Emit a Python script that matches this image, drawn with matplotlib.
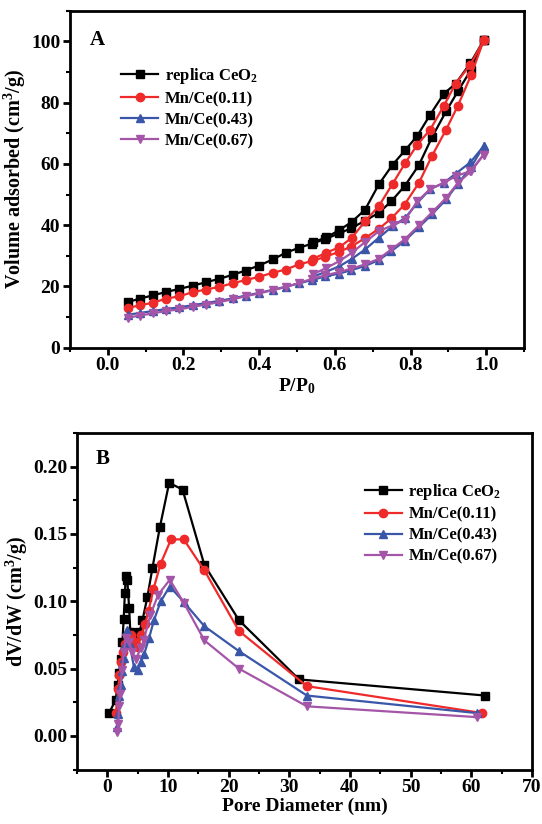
import numpy as np
import matplotlib
matplotlib.use('Agg')
import matplotlib.pyplot as plt
from matplotlib.ticker import MultipleLocator

# ---- panel A: N2 isotherms (adsorption + desorption branches) ----
p_ads = [0.053, 0.084, 0.119, 0.154, 0.189, 0.226, 0.260, 0.295, 0.330, 0.364,
         0.399, 0.436, 0.470, 0.505, 0.540, 0.575, 0.611, 0.643, 0.680, 0.716,
         0.749, 0.784, 0.822, 0.857, 0.894, 0.925, 0.960, 0.993]
p_des = [0.993, 0.958, 0.919, 0.888, 0.852, 0.818, 0.786, 0.753, 0.716, 0.680,
         0.645, 0.612, 0.577, 0.542]

ceo2_ads = [14.9, 16.0, 17.1, 18.2, 19.2, 20.3, 21.4, 22.5, 23.8, 25.2,
            26.8, 28.8, 31.0, 32.6, 34.0, 35.5, 37.3, 39.0, 41.5, 44.0,
            47.8, 52.7, 59.6, 68.8, 77.2, 83.7, 90.8, 100.3]
ceo2_des = [100.3, 92.9, 86.2, 82.9, 76.1, 69.2, 64.5, 59.8, 53.3, 45.1,
            41.1, 38.4, 36.0, 34.4]

mn011_ads = [13.0, 13.8, 14.7, 16.0, 16.8, 18.2, 19.0, 19.9, 21.0, 22.1,
             23.1, 24.5, 25.5, 27.2, 28.3, 29.7, 31.3, 33.0, 35.8, 38.8,
             42.2, 46.7, 53.8, 62.7, 71.2, 79.0, 89.0, 100.3]
mn011_des = [100.3, 92.4, 86.2, 79.0, 71.2, 66.3, 60.3, 53.6, 46.2, 41.3,
             35.9, 32.8, 31.0, 29.0]

mn043_ads = [10.8, 11.3, 12.0, 12.6, 13.2, 13.9, 14.6, 15.3, 16.1, 17.0,
             17.9, 18.9, 19.9, 21.0, 22.1, 23.3, 24.2, 25.3, 26.7, 28.6,
             31.5, 34.8, 39.3, 43.6, 48.4, 53.5, 59.0, 65.8]
mn043_des = [65.8, 60.5, 56.8, 53.8, 51.8, 47.3, 42.4, 39.7, 35.9, 32.1,
             29.0, 26.6, 24.8, 23.2]

mn067_ads = [9.8, 10.5, 11.2, 12.0, 12.5, 13.4, 14.1, 14.9, 15.8, 16.8,
             17.7, 18.8, 19.8, 21.1, 22.5, 23.6, 24.7, 25.8, 27.2, 29.0,
             32.1, 35.3, 39.9, 44.2, 48.9, 53.8, 57.6, 63.0]
mn067_des = [63.0, 57.6, 56.0, 53.8, 51.8, 47.8, 41.8, 40.0, 38.0, 34.5,
             31.0, 28.3, 26.0, 24.0]

# ---- panel B: pore size distributions ----
d_ceo2 = [0.3, 1.4, 1.7, 1.95, 2.2, 2.5, 2.7, 2.9, 3.05, 3.3, 3.6, 3.8, 4.6,
          5.3, 5.8, 6.6, 7.45, 8.66, 10.2, 12.4, 16.0, 21.7, 31.6, 62.3]
v_ceo2 = [0.017, 0.027, 0.038, 0.047, 0.057, 0.070, 0.087, 0.106, 0.119, 0.116,
          0.095, 0.077, 0.070, 0.077, 0.086, 0.103, 0.125, 0.155, 0.188, 0.183,
          0.127, 0.086, 0.042, 0.030]

d_mn011 = [1.4, 1.8, 2.0, 2.3, 2.6, 3.0, 3.4, 3.9, 4.5, 5.0, 5.6, 6.2, 6.8,
           7.6, 8.8, 10.5, 12.6, 16.0, 21.7, 32.9, 61.8]
v_mn011 = [0.017, 0.035, 0.045, 0.055, 0.062, 0.068, 0.073, 0.075, 0.070, 0.066,
           0.075, 0.083, 0.093, 0.109, 0.128, 0.146, 0.146, 0.123, 0.078, 0.037,
           0.017]

d_mn043 = [1.6, 1.8, 2.0, 2.2, 2.5, 2.8, 3.0, 3.3, 3.7, 4.4, 5.0, 5.5, 6.1,
           6.9, 7.7, 8.8, 10.3, 12.6, 16.0, 21.7, 32.9, 60.9]
v_mn043 = [0.007, 0.016, 0.030, 0.038, 0.048, 0.058, 0.068, 0.079, 0.068, 0.051,
           0.049, 0.055, 0.061, 0.073, 0.086, 0.100, 0.111, 0.0995, 0.0815, 0.063,
           0.030, 0.017]

d_mn067 = [1.6, 1.8, 1.95, 2.1, 2.4, 2.7, 3.05, 3.6, 4.1, 4.7, 5.5, 6.0, 7.1,
           8.4, 10.3, 12.6, 16.0, 21.7, 32.9, 60.9]
v_mn067 = [0.003, 0.009, 0.022, 0.031, 0.049, 0.062, 0.073, 0.070, 0.062, 0.057,
           0.065, 0.071, 0.090, 0.105, 0.116, 0.099, 0.071, 0.050, 0.022, 0.014]

labels = ['replica CeO$_2$', 'Mn/Ce(0.11)', 'Mn/Ce(0.43)', 'Mn/Ce(0.67)']
colors = ['black', '#ee2a2a', '#3a56a8', '#a455a8']
markers = ['s', 'o', '^', 'v']


def main():
    plt.rcParams['font.family'] = ['Liberation Serif', 'DejaVu Serif']
    plt.rcParams['font.weight'] = 'bold'
    plt.rcParams['axes.labelweight'] = 'bold'
    plt.rcParams['mathtext.fontset'] = 'custom'
    plt.rcParams['mathtext.rm'] = 'Liberation Serif:bold'
    plt.rcParams['mathtext.it'] = 'Liberation Serif:bold'
    plt.rcParams['mathtext.bf'] = 'Liberation Serif:bold'

    fig = plt.figure(figsize=(5.42, 8.24), dpi=100)
    ax1 = fig.add_axes([0.129, 0.578, 0.838, 0.409])
    ax2 = fig.add_axes([0.142, 0.066, 0.8395, 0.4085])

    # panel A
    iso = [(ceo2_ads, ceo2_des), (mn011_ads, mn011_des),
           (mn043_ads, mn043_des), (mn067_ads, mn067_des)]
    for (ads, des), lab, c, m in zip(iso, labels, colors, markers):
        ax1.plot(p_ads, ads, color=c, marker=m, ms=6, lw=1.6, label=lab)
        ax1.plot(p_des, des, color=c, marker=m, ms=6, lw=1.6)
    ax1.set_xlim(-0.1, 1.1)
    ax1.set_ylim(0, 110)
    ax1.xaxis.set_major_locator(MultipleLocator(0.2))
    ax1.xaxis.set_minor_locator(MultipleLocator(0.1))
    ax1.yaxis.set_major_locator(MultipleLocator(20))
    ax1.yaxis.set_minor_locator(MultipleLocator(10))
    ax1.set_xlabel('P/P$_0$', fontsize=14, labelpad=1)
    ax1.set_ylabel('Volume adsorbed (cm$^3$/g)', fontsize=14.5, labelpad=2)
    ax1.text(0.044, 0.944, 'A', transform=ax1.transAxes, fontsize=15,
             fontweight='bold', va='top')
    ax1.legend(loc='upper left', bbox_to_anchor=(0.08, 0.88), frameon=False,
               fontsize=12, handlelength=2.2, labelspacing=0.3, handletextpad=0.4)

    # panel B
    psd = [(d_ceo2, v_ceo2), (d_mn011, v_mn011), (d_mn043, v_mn043), (d_mn067, v_mn067)]
    for (d, v), lab, c, m in zip(psd, labels, colors, markers):
        ax2.plot(d, v, color=c, marker=m, ms=6, lw=1.6, label=lab)
    ax2.set_xlim(-5, 70)
    ax2.set_ylim(-0.025, 0.225)
    ax2.xaxis.set_major_locator(MultipleLocator(10))
    ax2.xaxis.set_minor_locator(MultipleLocator(5))
    ax2.yaxis.set_major_locator(MultipleLocator(0.05))
    ax2.yaxis.set_minor_locator(MultipleLocator(0.025))
    ax2.yaxis.set_major_formatter(matplotlib.ticker.FormatStrFormatter('%.2f'))
    ax2.set_xlabel('Pore Diameter (nm)', fontsize=14, labelpad=1)
    ax2.set_ylabel('dV/dW (cm$^3$/g)', fontsize=14.5, labelpad=2)
    ax2.text(0.04, 0.953, 'B', transform=ax2.transAxes, fontsize=15,
             fontweight='bold', va='top')
    ax2.legend(loc='upper left', bbox_to_anchor=(0.6, 0.9), frameon=False,
               fontsize=12, handlelength=2.2, labelspacing=0.3, handletextpad=0.4)

    for ax in (ax1, ax2):
        for s in ax.spines.values():
            s.set_linewidth(2)
        ax.tick_params(which='major', direction='out', length=5, width=2,
                       labelsize=14, pad=2)
        ax.tick_params(which='minor', direction='out', length=3, width=1.5)
        for t in ax.get_xticklabels() + ax.get_yticklabels():
            t.set_fontweight('bold')

    fig.savefig('out.png', dpi=100)


if __name__ == "__main__":
    main()
